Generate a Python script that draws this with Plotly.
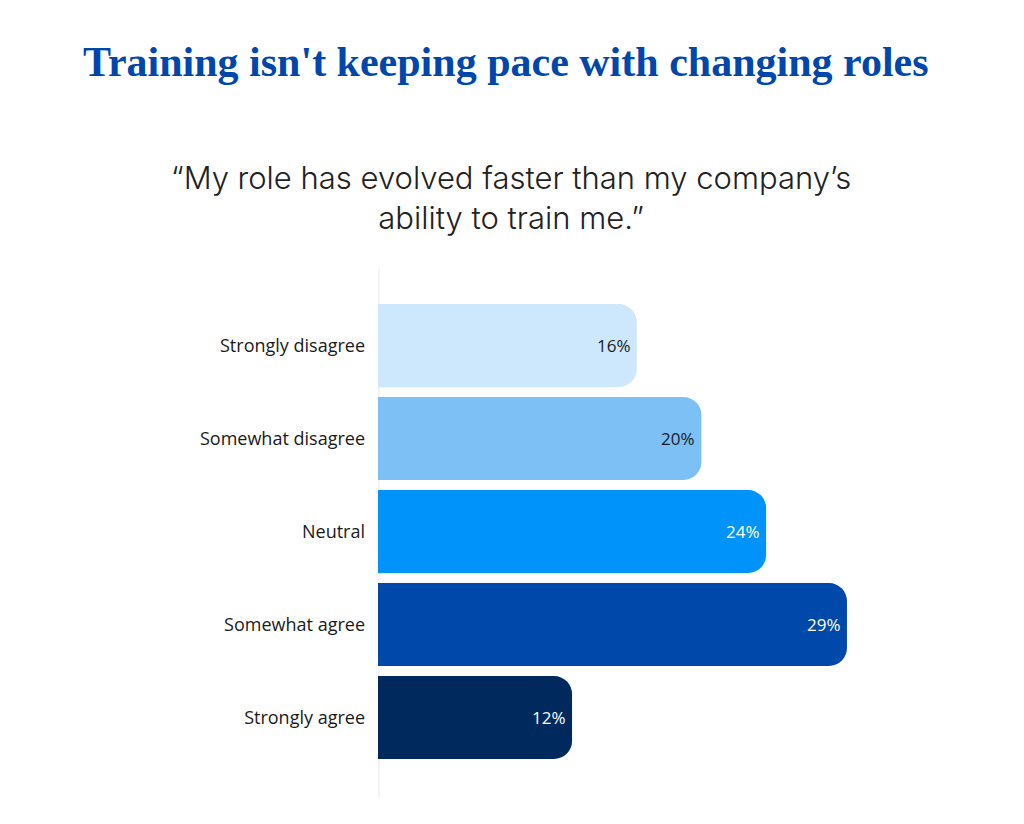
import plotly.graph_objects as go

categories = ["Strongly disagree", "Somewhat disagree", "Neutral", "Somewhat agree", "Strongly agree"]
values = [16, 20, 24, 29, 12]
bar_colors = ["#CDE7FC", "#7CC0F5", "#0094FB", "#0048A9", "#002A5E"]
text_colors = ["#1A1A1A", "#1A1A1A", "#FFFFFF", "#FFFFFF", "#FFFFFF"]

title_text = "Training isn't keeping pace with changing roles"
subtitle_text = "\u201cMy role has evolved faster than my company\u2019s<br>ability to train me.\u201d"

fig = go.Figure()
fig.add_trace(go.Bar(
    y=categories,
    x=values,
    orientation="h",
    marker=dict(color=bar_colors, line=dict(width=0)),
    hoverinfo="skip",
))

# value labels at bar ends
for cat, v, tc in zip(categories, values, text_colors):
    fig.add_annotation(x=v, y=cat, xref="x", yref="y", text=f"{v}%", showarrow=False,
                       xanchor="right", yanchor="middle", xshift=-4,
                       font=dict(family="Open Sans, sans-serif", size=17, color=tc))

fig.add_shape(type="line", xref="x", yref="paper", x0=0, x1=0, y0=-0.075, y1=1.065,
              line=dict(color="#F4F4F7", width=4), layer="below")

T, B = 299, 60
plot_h = 824 - T - B
def py(pix):
    return (824 - B - pix) / plot_h

def px(pix):
    return (pix - 378) / 500

fig.add_annotation(text=title_text, x=px(506), y=py(62), xref="paper", yref="paper",
                   showarrow=False, xanchor="center", yanchor="middle",
                   font=dict(family="Liberation Serif, serif", size=42, color="#0047AB", weight="bold"))
fig.add_annotation(text=subtitle_text, x=px(511), y=py(197), xref="paper", yref="paper",
                   showarrow=False, xanchor="center", yanchor="middle",
                   font=dict(family="Inter, sans-serif", size=31, color="#222222", weight=300))

fig.update_layout(
    width=1024, height=824,
    margin=dict(l=378, r=146, t=T, b=B, pad=0),
    paper_bgcolor="white", plot_bgcolor="white",
    bargap=0.108,
    barcornerradius=18,
    showlegend=False,
    xaxis=dict(range=[0, 30.92], visible=False, fixedrange=True),
    yaxis=dict(autorange=False, range=[4.5, -0.5], showgrid=False, zeroline=False,
               showline=False, ticks="", ticklabelstandoff=12,
               tickfont=dict(family="Open Sans, sans-serif", size=18, color="#1A1A1A")),
)

fig.write_html("out.html")
